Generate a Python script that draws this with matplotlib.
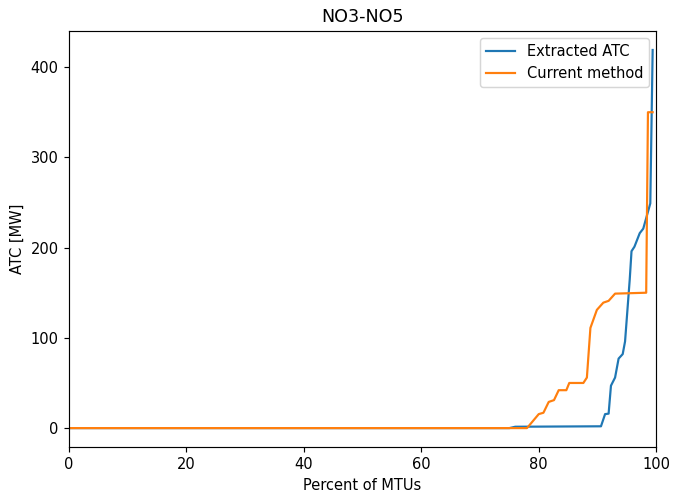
import matplotlib
matplotlib.use("Agg")
import matplotlib.pyplot as plt

# sorted ATC values (duration curve)
x_atc = [0, 75, 76, 90.6, 91.3, 91.9, 92.3, 93.0, 93.6, 94.3, 94.7, 95.5, 95.8,
         96.3, 97.2, 97.8, 99.0, 99.4]
atc = [0, 0, 1.5, 2, 15.5, 16, 47, 56, 77, 82, 96, 165, 196,
       201, 216, 221, 249, 419]

x_cur = [0, 78.0, 80.0, 80.8, 81.7, 82.6, 83.4, 84.7, 85.2, 87.6, 88.2, 88.8,
         89.9, 91.0, 91.9, 93.0, 98.3, 98.6, 99.4]
cur = [0, 0, 15.5, 17, 29, 31, 42, 42, 50, 50, 56, 111,
       131, 139, 141, 149, 150, 350, 350]

dpi = 105
fig, ax = plt.subplots(figsize=(673 / dpi, 493 / dpi), dpi=dpi)
fig.subplots_adjust(left=0.1025, right=0.975, bottom=0.0933, top=0.937)
ax.plot(x_atc, atc, label='Extracted ATC')
ax.plot(x_cur, cur, label='Current method')
ax.set_xlim(0, 100)
ax.set_title('NO3-NO5')
ax.set_xlabel('Percent of MTUs')
ax.set_ylabel('ATC [MW]')
ax.legend(loc='upper right')
fig.savefig('out.png', dpi=dpi)
